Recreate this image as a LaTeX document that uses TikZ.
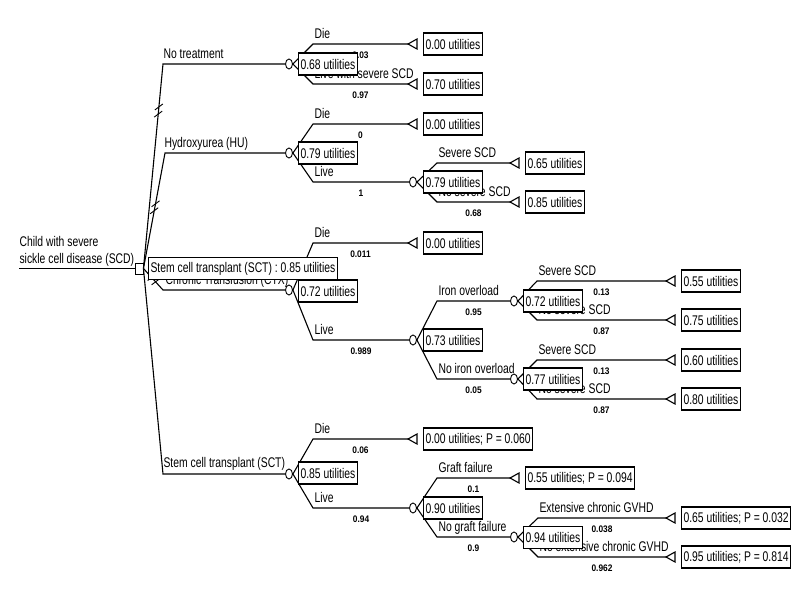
\documentclass[tikz,border=0pt]{standalone}
\usepackage{fontspec}
\setmainfont{Liberation Sans}[FakeStretch=0.74]
\newfontfamily\numfont{Liberation Sans}[FakeStretch=0.88]
\usetikzlibrary{shapes.geometric}
\newcommand\brch[6]{% #1 from node, #2 name, #3 corner, #4 end, #5 label, #6 prob
  \coordinate (#2) at #3;
  \draw (#1.east) -- (#2) -- #4;
  \node[blabel] (#2L) at ([xshift=1pt,yshift=6pt]#2) {#5};
  \path (#2) -- #4 node[prob, midway, yshift=-14.5pt] (#2P) {#6};
}
\newcommand\termin[3]{% name, tip, text
  \coordinate (#1) at #2;
  \draw[fill=white] (#1) -- ++(9,-5) -- ++(0,10) -- cycle;
  \node[ubox] (#1B) at ([xshift=15pt]#1) {#3};
}
\begin{document}
\begin{tikzpicture}[x=1pt,y=-1pt,line width=1.1pt,
  chance/.style={ellipse,draw,fill=white,line width=0.9pt,minimum width=7pt,minimum height=10pt,inner sep=0pt},
  decision/.style={rectangle,draw,fill=white,line width=0.9pt,minimum width=8pt,minimum height=11pt,inner sep=0pt},
  ubox/.style={draw,fill=white,font=\fontsize{14}{16}\selectfont,inner xsep=2pt,inner ysep=0pt,minimum height=22pt,anchor=west},
  blabel/.style={font=\fontsize{14}{16}\selectfont,anchor=base west,inner sep=0pt},
  prob/.style={font=\numfont\bfseries\fontsize{9.5}{12}\selectfont,anchor=base,inner sep=0pt},
  hash/.style={line width=0.9pt}]
\fill[white] (0,0) rectangle (800,600);
\useasboundingbox (0,0) rectangle (800,600);

% decision node and root
\node[decision] (D) at (139,268.5) {};
\coordinate (R) at (19,268.5);
\draw (R) -- (D.west);
\node[blabel] (R1) at (19,246.5) {Child with severe};
\node[blabel] (R2) at (19,263) {sickle cell disease (SCD)};

% chance nodes
\node[chance] (C1) at (289,64) {};
\node[chance] (C2) at (289,153) {};
\node[chance] (C3) at (413,182) {};
\node[chance] (C4) at (289,290) {};
\node[chance] (C5) at (413,340) {};
\node[chance] (C6) at (514,301) {};
\node[chance] (C7) at (514,379) {};
\node[chance] (C8) at (289,474) {};
\node[chance] (C9) at (413,508) {};
\node[chance] (C10) at (514,537) {};

% decision branches
\coordinate (NT) at (163,64);
\coordinate (HU) at (165,153);
\coordinate (CT) at (163,290);
\coordinate (ST) at (163,474);
\draw (D.east) -- (NT) -- (C1.west);
\draw (D.east) -- (HU) -- (C2.west);
\draw (D.east) -- (CT) -- (C4.west);
\draw (D.east) -- (ST) -- (C8.west);
\node[blabel] (NTL) at (163,58) {No treatment};
\node[blabel] (HUL) at (164,147) {Hydroxyurea (HU)};
\node[blabel] (CTL) at (165,284) {Chronic Transfusion (CTX)};
\node[blabel] (STL) at (163,467.5) {Stem cell transplant (SCT)};

% hash marks on non-optimal branches
\path (D.east) -- (NT) coordinate[pos=0.755] (h1) coordinate[pos=0.79] (h2);
\path (D.east) -- (HU) coordinate[pos=0.50] (h3) coordinate[pos=0.56] (h4);
\path (D.east) -- (CT) coordinate[pos=0.42] (h5) coordinate[pos=0.62] (h6);
\foreach \h in {h1,h2,h3,h4,h5,h6}
  \draw[hash] ([shift={(-4,3)}]\h) -- ([shift={(4,-3)}]\h);

% terminals
\termin{T1}{(408,44)}{0.00 utilities}
\termin{T2}{(408,84)}{0.70 utilities}
\termin{T3}{(408,124)}{0.00 utilities}
\termin{T4}{(510,163)}{0.65 utilities}
\termin{T5}{(510,202)}{0.85 utilities}
\termin{T6}{(408,243)}{0.00 utilities}
\termin{T7}{(666,281)}{0.55 utilities}
\termin{T8}{(666,320)}{0.75 utilities}
\termin{T9}{(666,360)}{0.60 utilities}
\termin{T10}{(666,399)}{0.80 utilities}
\termin{T11}{(408,439)}{0.00 utilities; P = 0.060}
\termin{T12}{(510,478)}{0.55 utilities; P = 0.094}
\termin{T13}{(666,518)}{0.65 utilities; P = 0.032}
\termin{T14}{(666,557)}{0.95 utilities; P = 0.814}

% chance branches
\brch{C1}{B1}{(313,44)}{(T1)}{Die}{0.03}
\brch{C1}{B2}{(313,84)}{(T2)}{Live with severe SCD}{0.97}
\brch{C2}{B3}{(313,124)}{(T3)}{Die}{0}
\brch{C2}{B4}{(313,182)}{(C3.west)}{Live}{1}
\brch{C3}{B5}{(437,163)}{(T4)}{Severe SCD}{0.32}
\brch{C3}{B6}{(437,202)}{(T5)}{No severe SCD}{0.68}
\brch{C4}{B7}{(313,243)}{(T6)}{Die}{0.011}
\brch{C4}{B8}{(313,340)}{(C5.west)}{Live}{0.989}
\brch{C5}{B9}{(437,301)}{(C6.west)}{Iron overload}{0.95}
\brch{C5}{B10}{(437,379)}{(C7.west)}{No iron overload}{0.05}
\brch{C6}{B11}{(537,281)}{(T7)}{Severe SCD}{0.13}
\brch{C6}{B12}{(537,320)}{(T8)}{No severe SCD}{0.87}
\brch{C7}{B13}{(537,360)}{(T9)}{Severe SCD}{0.13}
\brch{C7}{B14}{(537,399)}{(T10)}{No severe SCD}{0.87}
\brch{C8}{B15}{(313,439)}{(T11)}{Die}{0.06}
\brch{C8}{B16}{(313,508)}{(C9.west)}{Live}{0.94}
\brch{C9}{B17}{(437,478)}{(T12)}{Graft failure}{0.1}
\brch{C9}{B18}{(437,537)}{(C10.west)}{No graft failure}{0.9}
\brch{C10}{B19}{(538,518)}{(T13)}{Extensive chronic GVHD}{0.038}
\brch{C10}{B20}{(538,557)}{(T14)}{No extensive chronic GVHD}{0.962}

% expected-value boxes (drawn last, on top)
\node[ubox] (E1) at (298,64) {0.68 utilities};
\node[ubox] (E2) at (298,153) {0.79 utilities};
\node[ubox] (E3) at (423,182) {0.79 utilities};
\node[ubox] (E4) at (298,291) {0.72 utilities};
\node[ubox] (E5) at (423,340) {0.73 utilities};
\node[ubox] (E6) at (523,301) {0.72 utilities};
\node[ubox] (E7) at (523,379) {0.77 utilities};
\node[ubox] (E8) at (298,473) {0.85 utilities};
\node[ubox] (E9) at (423,508) {0.90 utilities};
\node[ubox] (E10) at (523,537.5) {0.94 utilities};
\node[ubox] (OPT) at (148,268.5) {Stem cell transplant (SCT) : 0.85 utilities};
\end{tikzpicture}
\end{document}
